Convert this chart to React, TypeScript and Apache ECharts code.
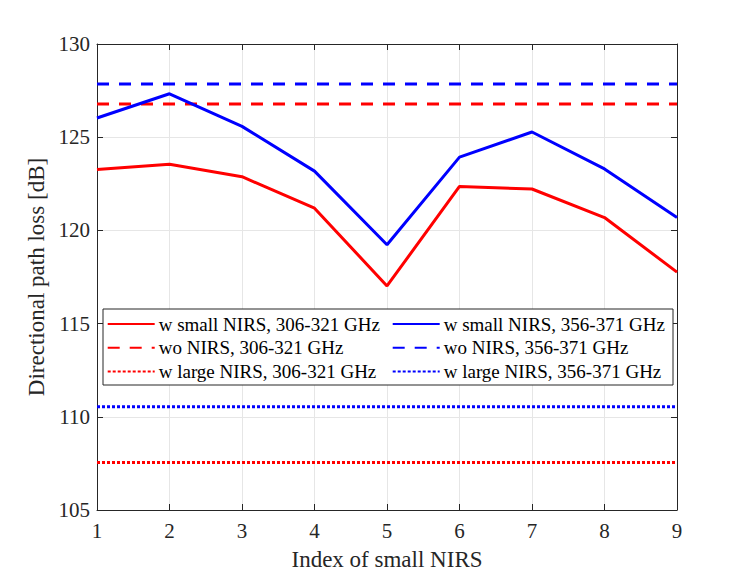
import React, { useEffect, useRef } from "react";
import * as echarts from "echarts";

const indices = [1, 2, 3, 4, 5, 6, 7, 8, 9];
const xTicks = ["1", "2", "3", "4", "5", "6", "7", "8", "9"];
const yTicks = [105, 110, 115, 120, 125, 130];
const smallLow = [123.27, 123.55, 122.88, 121.19, 117.02, 122.36, 122.22, 120.69, 117.76];
const smallHigh = [126.03, 127.33, 125.58, 123.18, 119.23, 123.93, 125.28, 123.3, 120.69];
const woLow = [126.78, 126.78, 126.78, 126.78, 126.78, 126.78, 126.78, 126.78, 126.78];
const woHigh = [127.85, 127.85, 127.85, 127.85, 127.85, 127.85, 127.85, 127.85, 127.85];
const largeLow = [107.55, 107.55, 107.55, 107.55, 107.55, 107.55, 107.55, 107.55, 107.55];
const largeHigh = [110.54, 110.54, 110.54, 110.54, 110.54, 110.54, 110.54, 110.54, 110.54];

const names = [
  "w small NIRS, 306-321 GHz",
  "wo NIRS, 306-321 GHz",
  "w large NIRS, 306-321 GHz",
  "w small NIRS, 356-371 GHz",
  "wo NIRS, 356-371 GHz",
  "w large NIRS, 356-371 GHz",
];

const FONT = "Liberation Serif";
const AX = "#262626";

function pairs(vals: number[]) {
  return indices.map((x, i) => [x, vals[i]]);
}

export default function App() {
  const ref = useRef<HTMLDivElement>(null);
  useEffect(() => {
    const chart = echarts.init(ref.current!, null, { renderer: "svg" });
    const mk = (name: string, vals: number[], color: string, type: any) => ({
      name,
      type: "line",
      data: pairs(vals),
      symbol: "none",
      showSymbol: false,
      lineStyle: { color, width: 3, type, cap: "butt" },
      itemStyle: { color },
      z: 2,
    });
    const dashed = [12, 10];
    const dotted = [3, 2];
    const baseAxis = {
      min: 1,
      max: 9,
      interval: 1,
      type: "value",
    };
    const legendCommon = {
      orient: "vertical",
      top: 313,
      itemWidth: 47,
      itemHeight: 14,
      itemGap: 1.8,
      padding: 0,
      itemStyle: { opacity: 0 },
      textStyle: { fontFamily: FONT, fontSize: 19, lineHeight: 22, color: "#000", padding: [0, 0, 0, -1] },
      z: 5,
    };
    chart.setOption({
      animation: false,
      backgroundColor: "#fff",
      grid: { left: 97, right: 70, top: 44, bottom: 64, containLabel: false },
      xAxis: [
        {
          ...baseAxis,
          position: "bottom",
          name: "Index of small NIRS",
          nameLocation: "middle",
          nameGap: 38,
          nameTextStyle: { fontFamily: FONT, fontSize: 23, color: AX },
          axisLine: { show: true, lineStyle: { color: AX, width: 1 } },
          axisTick: { show: true, inside: true, length: 6, lineStyle: { color: AX } },
          axisLabel: {
            fontFamily: FONT,
            fontSize: 21,
            color: AX,
            margin: 10,
            formatter: (v: number) => xTicks[v - 1] ?? "",
          },
          splitLine: { show: true, lineStyle: { color: "#e6e6e6", width: 1 } },
        },
        {
          ...baseAxis,
          position: "top",
          axisLine: { show: true, lineStyle: { color: AX, width: 1 } },
          axisTick: { show: true, inside: true, length: 6, lineStyle: { color: AX } },
          axisLabel: { show: false },
          splitLine: { show: false },
        },
      ],
      yAxis: [
        {
          type: "value",
          min: yTicks[0],
          max: yTicks[yTicks.length - 1],
          interval: 5,
          position: "left",
          name: "Directional path loss [dB]",
          nameLocation: "middle",
          nameGap: 40,
          nameTextStyle: { fontFamily: FONT, fontSize: 23, color: AX },
          axisLine: { show: true, lineStyle: { color: AX, width: 1 } },
          axisTick: { show: true, inside: true, length: 6, lineStyle: { color: AX } },
          axisLabel: { fontFamily: FONT, fontSize: 21, color: AX, margin: 7 },
          splitLine: { show: true, lineStyle: { color: "#e6e6e6", width: 1 } },
        },
        {
          type: "value",
          min: yTicks[0],
          max: yTicks[yTicks.length - 1],
          interval: 5,
          position: "right",
          axisLine: { show: true, lineStyle: { color: AX, width: 1 } },
          axisTick: { show: true, inside: true, length: 6, lineStyle: { color: AX } },
          axisLabel: { show: false },
          splitLine: { show: false },
        },
      ],
      legend: [
        { ...legendCommon, left: 106.7, data: [names[0], names[1], names[2]] },
        { ...legendCommon, left: 391.7, data: [names[3], names[4], names[5]] },
      ],
      graphic: [
        {
          type: "rect",
          z: 3,
          shape: { x: 103, y: 309, width: 570, height: 76 },
          style: { fill: "#fff", stroke: AX, lineWidth: 1 },
        },
      ],
      series: [
        mk(names[0], smallLow, "#ff0000", "solid"),
        mk(names[1], woLow, "#ff0000", dashed),
        mk(names[2], largeLow, "#ff0000", dotted),
        mk(names[3], smallHigh, "#0000ff", "solid"),
        mk(names[4], woHigh, "#0000ff", dashed),
        mk(names[5], largeHigh, "#0000ff", dotted),
      ],
    });
    return () => chart.dispose();
  }, []);
  return (
    <div
      ref={ref}
      style={{ position: "absolute", left: 0, top: 0, width: 747, height: 576 }}
    />
  );
}
